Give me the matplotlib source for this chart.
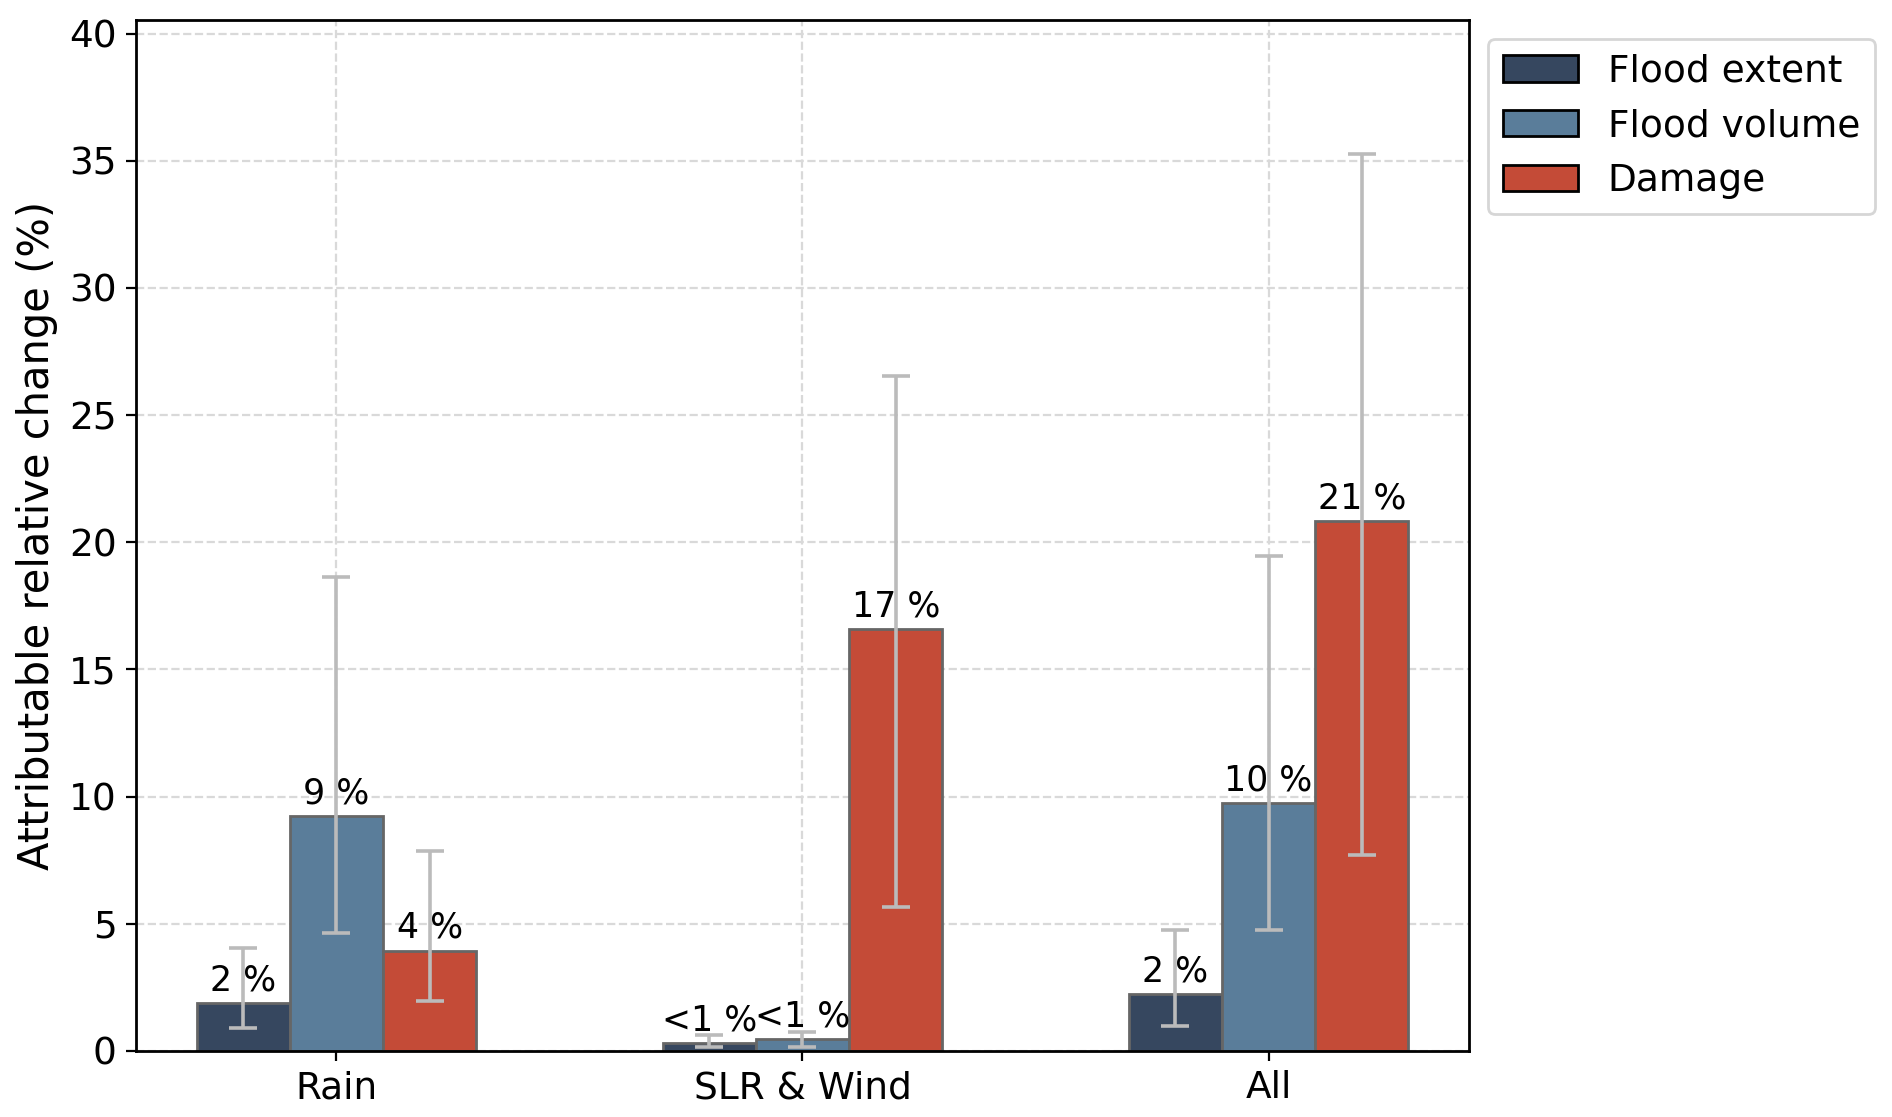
import numpy as np
from matplotlib import pyplot as plt
from matplotlib.patches import Patch

# drivers on the x axis
drivers = ['Rain', 'SLR & Wind', 'All']
series = ['Flood extent', 'Flood volume', 'Damage']
colours = ['#36475f', '#5a7d9a', '#c44b37']

# central estimates (%)
flood_extent = [1.9, 0.33, 2.23]
flood_volume = [9.25, 0.48, 9.75]
damage = [3.95, 16.6, 20.85]

# uncertainty range (%)
extent_low = [0.9, 0.14, 1.0]
extent_high = [4.05, 0.62, 4.75]
volume_low = [4.65, 0.16, 4.75]
volume_high = [18.65, 0.76, 19.45]
damage_low = [1.95, 5.65, 7.7]
damage_high = [7.85, 26.55, 35.25]

# text above each bar
extent_labels = ['2 %', '<1 %', '2 %']
volume_labels = ['9 %', '<1 %', '10 %']
damage_labels = ['4 %', '17 %', '21 %']

values = [flood_extent, flood_volume, damage]
lows = [extent_low, volume_low, damage_low]
highs = [extent_high, volume_high, damage_high]
labels = [extent_labels, volume_labels, damage_labels]

plt.rcParams['font.size'] = 13.5

fig = plt.figure(figsize=(9.46, 5.585), dpi=200)
ax = fig.add_axes([0.0719, 0.0591, 0.7045, 0.923])
ax.set_axisbelow(True)
ax.grid(True, linestyle='--', color='#d9d9d9', linewidth=0.8)

x = np.arange(len(drivers))
width = 0.2
for i in range(3):
    vals = np.array(values[i])
    yerr = [vals - np.array(lows[i]), np.array(highs[i]) - vals]
    bars = ax.bar(x + (i - 1) * width, vals, width, color=colours[i],
                  edgecolor='#666666', linewidth=1.0, label=series[i])
    ax.errorbar(x + (i - 1) * width, vals, yerr=yerr, fmt='none',
                ecolor='#bbbbbb', elinewidth=1.3, capsize=5, capthick=1.3)
    ax.bar_label(bars, labels=labels[i], padding=2, fontsize=12.5)

ax.set_xticks(x)
ax.set_xticklabels(drivers)
ax.set_ylim(0, max(damage_high) * 1.15)
ax.set_ylabel('Attributable relative change (%)', fontsize=15)
for s in ax.spines.values():
    s.set_linewidth(1.0)

handles = [Patch(facecolor=c, edgecolor='black', label=l) for c, l in zip(colours, series)]
ax.legend(handles=handles, loc='upper left', bbox_to_anchor=(1, 1), fontsize=13.5)

fig.savefig('out.png', dpi=200)
